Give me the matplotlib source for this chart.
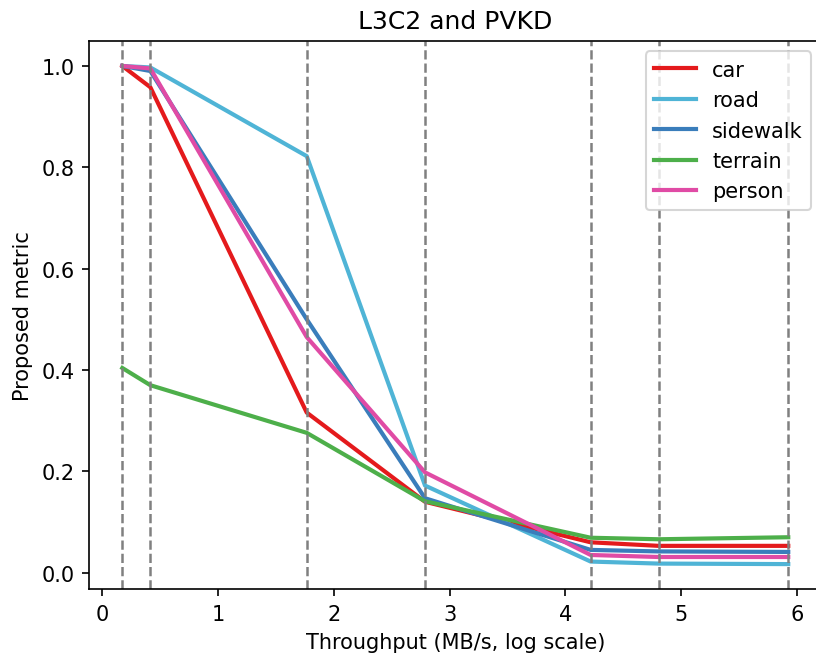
import matplotlib
matplotlib.use('Agg')
import matplotlib.pyplot as plt

# =====================================================
# DATOS
# =====================================================
throughput_log = [0.172, 0.414, 1.765, 2.787, 4.218, 4.807, 5.925]

car = [1.000, 0.958, 0.316, 0.140, 0.060, 0.053, 0.053]
road = [1.000, 0.997, 0.822, 0.172, 0.022, 0.018, 0.017]
sidewalk = [1.000, 0.990, 0.500, 0.147, 0.045, 0.042, 0.041]
terrain = [0.404, 0.370, 0.276, 0.141, 0.069, 0.066, 0.070]
person = [1.000, 0.995, 0.465, 0.198, 0.035, 0.031, 0.031]

clases = ['car', 'road', 'sidewalk', 'terrain', 'person']
series = [car, road, sidewalk, terrain, person]
colores = ['#e41a1c', '#4fb4d6', '#3a7dbb', '#4daf4a', '#e04ba5']

# =====================================================
# GRÁFICO
# =====================================================
fig = plt.figure(figsize=(5.44, 4.393), dpi=150)
ax = fig.add_axes([0.1091, 0.1047, 0.8977, 0.8316])

for nombre, valores, color in zip(clases, series, colores):
    ax.plot(throughput_log, valores, color=color, linewidth=2, label=nombre)

for x in throughput_log:
    ax.axvline(x, color='gray', linestyle='--', linewidth=1.2)

ax.set_title("L3C2 and PVKD")
ax.set_xlabel("Throughput (MB/s, log scale)")
ax.set_ylabel("Proposed metric")
ax.legend(loc='upper right')

fig.savefig("out.png", dpi=150)
